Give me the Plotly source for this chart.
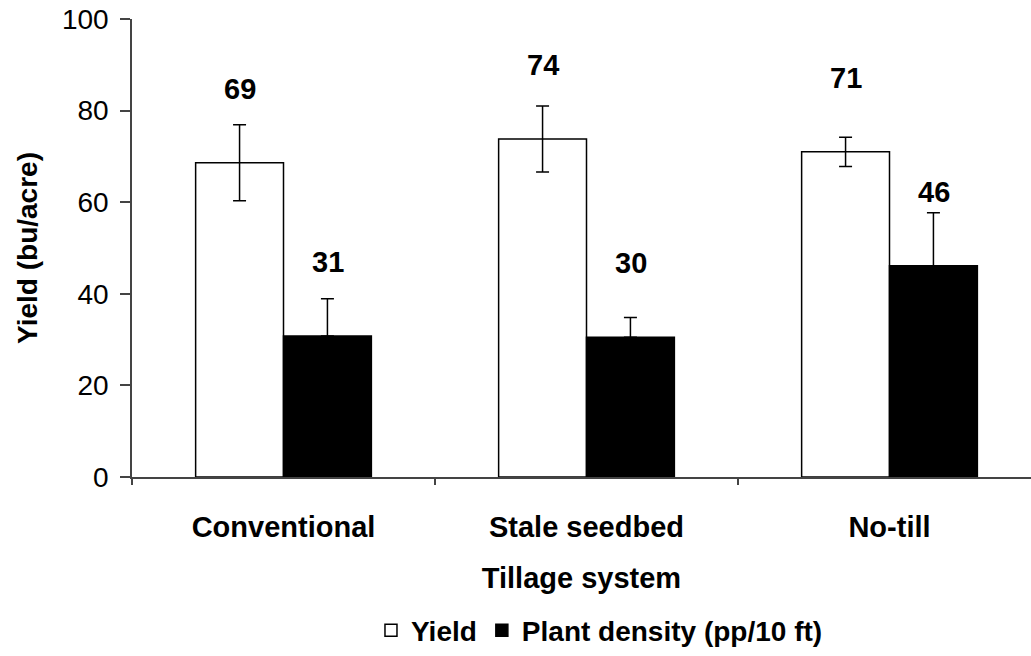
import plotly.graph_objects as go

categories = ["Conventional", "Stale seedbed", "No-till"]
yield_vals = [68.6, 73.8, 71.0]
yield_err = [8.3, 7.2, 3.2]
yield_labels = ["69", "74", "71"]
density_vals = [30.8, 30.5, 46.1]
density_err = [8.1, 4.3, 11.6]
density_labels = ["31", "30", "46"]

FONT = "Liberation Sans, Arial, sans-serif"

fig = go.Figure()
fig.add_trace(go.Bar(
    name="Yield", x=categories, y=yield_vals,
    marker=dict(color="white", line=dict(color="black", width=1.5)),
    error_y=dict(type="data", array=yield_err, symmetric=True,
                 color="black", thickness=1.5, width=6.5),
))
fig.add_trace(go.Bar(
    name="Plant density (pp/10 ft)", x=categories, y=density_vals,
    marker=dict(color="black", line=dict(color="black", width=1.5)),
    error_y=dict(type="data", array=density_err,
                 arrayminus=[0] * len(density_err), symmetric=False,
                 color="black", thickness=1.5, width=6.5),
))

for cat, v, t in zip(categories, yield_vals, yield_labels):
    fig.add_annotation(x=cat, y=v, text=f"<b>{t}</b>", showarrow=False,
                       xshift=-44, yshift=74, yanchor="middle",
                       font=dict(family=FONT, size=29, color="black"))
for cat, v, t in zip(categories, density_vals, density_labels):
    fig.add_annotation(x=cat, y=v, text=f"<b>{t}</b>", showarrow=False,
                       xshift=44, yshift=74, yanchor="middle",
                       font=dict(family=FONT, size=29, color="black"))

fig.update_layout(
    width=1031, height=656,
    margin=dict(l=132, r=0, t=19, b=179),
    paper_bgcolor="white", plot_bgcolor="white",
    barmode="group", bargap=0.42, bargroupgap=0,
    font=dict(family=FONT, color="black"),
    showlegend=True,
    legend=dict(orientation="h", x=0.52, xanchor="center", y=-0.335,
                yanchor="middle",
                font=dict(family=FONT, size=28, color="black", weight="bold"),
                itemwidth=30, bgcolor="rgba(0,0,0,0)"),
    xaxis=dict(
        type="category", range=[-0.5, 2.467], automargin=False,
        showline=True, linecolor="#444", linewidth=1.5,
        ticks="outside", tickson="boundaries", ticklen=6, tickcolor="#444",
        tickwidth=1.5, ticklabelstandoff=23,
        tickfont=dict(family=FONT, size=29, color="black"),
        tickvals=categories, ticktext=[f"<b>{c}</b>" for c in categories],
        title=dict(text="<b>Tillage system</b>", standoff=26,
                   font=dict(family=FONT, size=29, color="black")),
        showgrid=False, zeroline=False, fixedrange=True,
    ),
    yaxis=dict(
        range=[0, 100], tickvals=[0, 20, 40, 60, 80, 100], automargin=False,
        showline=True, linecolor="#444", linewidth=1.5,
        ticks="outside", ticklen=10, tickcolor="#444", tickwidth=1.5,
        ticklabelstandoff=6, ticklabeloverflow="allow",
        tickfont=dict(family=FONT, size=28, color="black"),
        title=dict(text="<b>Yield (bu/acre)</b>", standoff=16,
                   font=dict(family=FONT, size=28, color="black")),
        showgrid=False, zeroline=False, fixedrange=True,
    ),
)

fig.write_html("out.html", config={"displayModeBar": False},
               post_script="document.body.style.margin='0px';")
